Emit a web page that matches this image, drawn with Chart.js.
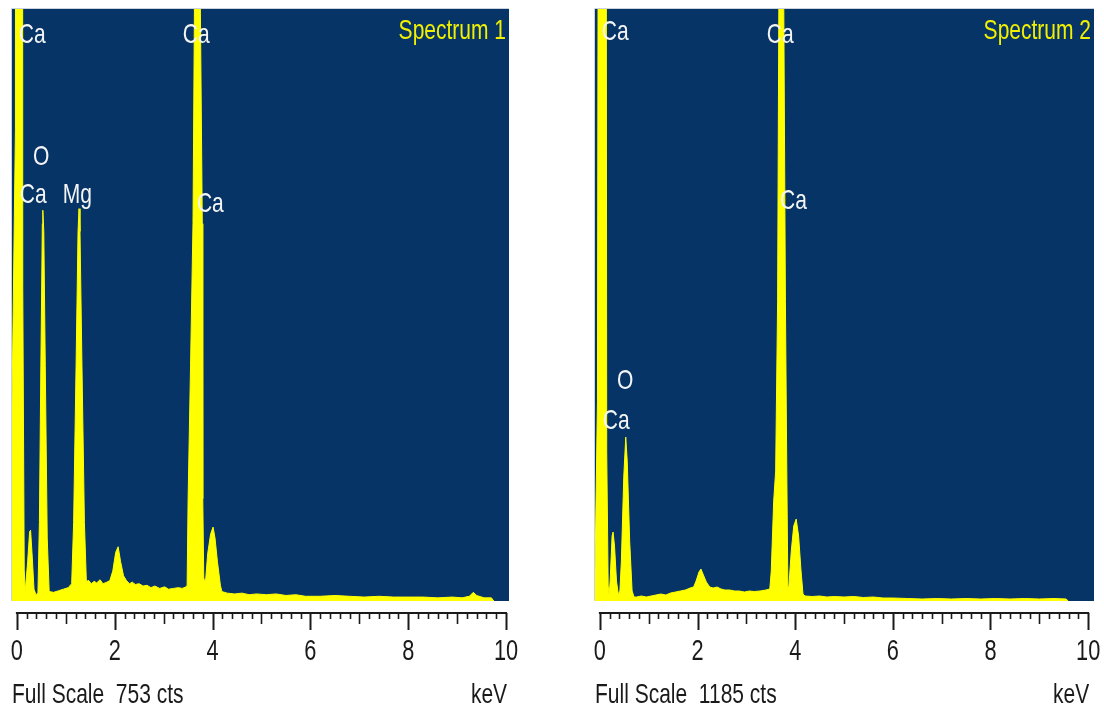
<!DOCTYPE html>
<html lang="en">
<head>
  <meta charset="UTF-8">
  <title>EDS Spectrum 1 and 2</title>
  <script src="https://cdn.jsdelivr.net/npm/chart.js"></script>
  <style>
    body { margin: 0; background: #fff; }
    .panel { position: absolute; top: 0; width: 552px; height: 713px; }
    #p1 { left: 0; }
    #p2 { left: 552px; }
  </style>
</head>
<body>
  <div class="panel" id="p1"><canvas id="spec1"></canvas></div>
  <div class="panel" id="p2"><canvas id="spec2"></canvas></div>

  <script>
    // energy axis (keV)
    const tickValues = [0, 2, 4, 6, 8, 10];
    const tickLabels = ['0', '2', '4', '6', '8', '10'];

    // Spectrum 1 (keV, counts)
    const spec1Kev = [-0.10, -0.03, 0.00, 0.10, 0.12, 0.15, 0.17, 0.22, 0.26, 0.28, 0.31, 0.35, 0.39,
      0.43, 0.46, 0.49, 0.52, 0.53, 0.55, 0.58, 0.62, 0.66, 0.75, 0.85, 0.95, 1.05, 1.12,
      1.16, 1.21, 1.25, 1.27, 1.29, 1.33, 1.38, 1.42, 1.47, 1.52, 1.58, 1.63, 1.70, 1.76, 1.84, 1.90,
      1.96, 2.02, 2.07, 2.12, 2.18, 2.24, 2.30, 2.36, 2.42, 2.50, 2.58, 2.66, 2.74, 2.82, 2.92, 3.02,
      3.10, 3.20, 3.30, 3.38, 3.46, 3.48, 3.50, 3.55, 3.60, 3.63, 3.68, 3.72, 3.75, 3.79, 3.80, 3.82,
      3.84, 3.86, 3.90, 3.96, 4.01, 4.05, 4.10, 4.16, 4.19, 4.30, 4.45, 4.60, 4.75, 4.90, 5.10, 5.30,
      5.50, 5.70, 5.90, 6.20, 6.50, 6.80, 7.10, 7.40, 7.70, 8.00, 8.30, 8.60, 8.90, 9.10, 9.25, 9.33,
      9.40, 9.55, 9.70, 9.75];
    const spec1Cts = [250, 600, 5000, 5000, 400, 40, 12, 50, 88, 90, 60, 15, 8,
      10, 100, 300, 480, 497, 470, 300, 80, 12, 11, 13, 15, 17, 22,
      100, 300, 470, 499, 470, 300, 100, 25, 26, 22, 25, 23, 27, 22, 24, 26,
      38, 62, 69, 50, 32, 26, 22, 24, 21, 22, 19, 20, 17, 19, 16, 18,
      15, 16, 17, 16, 18, 20, 130, 300, 480, 760, 3000, 3000, 760, 480, 130, 30,
      24, 28, 60, 85, 94, 80, 50, 20, 12, 10, 9, 10, 8, 9, 8, 9,
      7, 8, 6, 6, 7, 6, 5, 6, 5, 5, 5, 4, 5, 4, 6, 11,
      7, 4, 4, 0];
    const spec1FullScale = 753;

    // Spectrum 2
    const spec2Kev = [-0.10, -0.05, 0.02, 0.10, 0.14, 0.17, 0.19, 0.21, 0.25, 0.27, 0.30, 0.34, 0.38,
      0.41, 0.44, 0.49, 0.53, 0.56, 0.61, 0.66, 0.70, 0.75, 0.85, 0.95, 1.05, 1.15, 1.25, 1.35, 1.45,
      1.55, 1.65, 1.75, 1.85, 1.92, 1.97, 2.03, 2.07, 2.12, 2.18, 2.25, 2.32, 2.40, 2.48, 2.56, 2.66,
      2.76, 2.86, 2.96, 3.06, 3.16, 3.28, 3.40, 3.48, 3.51, 3.56, 3.60, 3.64, 3.67, 3.69, 3.73, 3.76,
      3.80, 3.83, 3.85, 3.87, 3.92, 3.97, 4.02, 4.07, 4.12, 4.16, 4.20, 4.35, 4.50, 4.65, 4.80, 5.00,
      5.20, 5.40, 5.60, 5.80, 6.00, 6.30, 6.60, 6.90, 7.20, 7.50, 7.80, 8.10, 8.40, 8.70, 9.00, 9.30,
      9.55, 9.59];
    const spec2Cts = [60, 400, 5000, 5000, 300, 30, 12, 40, 130, 138, 110, 40, 12,
      20, 80, 250, 328, 280, 120, 20, 8, 8, 10, 8, 10, 12, 14, 12, 16,
      18, 20, 22, 26, 28, 40, 58, 64, 52, 38, 28, 26, 28, 24, 22, 22,
      20, 20, 18, 20, 19, 20, 22, 24, 60, 200, 260, 600, 1300, 5000, 5000, 1300,
      600, 240, 28, 28, 100, 150, 164, 130, 60, 14, 10, 9, 10, 8, 9, 8,
      9, 7, 8, 6, 6, 5, 4, 5, 4, 5, 4, 5, 4, 5, 4, 5,
      4, 0];
    const spec2FullScale = 1185;

    // peak labels: text, keV (left edge), counts (baseline)
    const spec1Labels = [
      { text: 'Ca', kev: 0.04, cts: 710 },
      { text: 'Ca', kev: 3.39, cts: 710 },
      { text: 'O', kev: 0.33, cts: 555 },
      { text: 'Ca', kev: 0.06, cts: 506 },
      { text: 'Mg', kev: 0.94, cts: 506 },
      { text: 'Ca', kev: 3.68, cts: 495 }
    ];
    const spec2Labels = [
      { text: 'Ca', kev: 0.04, cts: 1123 },
      { text: 'Ca', kev: 3.42, cts: 1117 },
      { text: 'Ca', kev: 3.69, cts: 785 },
      { text: 'O', kev: 0.35, cts: 424 },
      { text: 'Ca', kev: 0.06, cts: 344 }
    ];

    const BLUE = '#063466';
    const YELLOW = '#ffff00';
    const FONT = '"Liberation Sans", Arial, sans-serif';

    function txt(ctx, s, x, y, align, size, color) {
      ctx.save();
      ctx.font = size + 'px ' + FONT;
      ctx.fillStyle = color;
      ctx.textAlign = align;
      ctx.textBaseline = 'alphabetic';
      ctx.translate(x, y);
      ctx.scale(0.75, 1);
      ctx.fillText(s, 0, 0);
      ctx.restore();
    }

    function makeSpectrum(id, kev, cts, fullScale, title, labels, xMax, pad) {
      const points = kev.map((k, i) => ({ x: k, y: cts[i] }));

      const deco = {
        id: 'deco',
        beforeDraw(chart) {
          const { ctx, chartArea: a } = chart;
          ctx.save();
          ctx.fillStyle = BLUE;
          ctx.fillRect(a.left, a.top, a.right - a.left, a.bottom - a.top);
          ctx.strokeStyle = '#c9d2de';
          ctx.lineWidth = 1;
          ctx.beginPath();
          ctx.moveTo(a.left - 0.5, a.bottom);
          ctx.lineTo(a.left - 0.5, a.top - 0.5);
          ctx.lineTo(a.right, a.top - 0.5);
          ctx.stroke();
          ctx.restore();
        },
        afterDraw(chart) {
          const { ctx, chartArea: a } = chart;
          const xs = chart.scales.x, ys = chart.scales.y;

          // peak labels
          labels.forEach(l => {
            txt(ctx, l.text, xs.getPixelForValue(l.kev), ys.getPixelForValue(l.cts), 'left', 28, '#f4f4f4');
          });
          txt(ctx, title, a.right - 3, a.top + 30, 'right', 28, '#f0f000');

          // energy axis with hanging ticks
          const axY = a.bottom + 12;
          ctx.save();
          ctx.strokeStyle = '#1a1a1a';
          ctx.lineWidth = 2;
          ctx.beginPath();
          ctx.moveTo(xs.getPixelForValue(0) - 1, axY);
          ctx.lineTo(xs.getPixelForValue(10) + 1, axY);
          ctx.stroke();
          for (let i = 0; i <= 50; i++) {
            const v = i * 0.2;
            const px = Math.round(xs.getPixelForValue(v)) + 0.5;
            const len = i % 10 === 0 ? 17 : (i % 5 === 0 ? 11 : 6);
            ctx.lineWidth = i % 10 === 0 ? 2 : 1.6;
            ctx.beginPath();
            ctx.moveTo(px, axY);
            ctx.lineTo(px, axY + len);
            ctx.stroke();
          }
          ctx.restore();

          tickValues.forEach((v, i) => {
            txt(ctx, tickLabels[i], xs.getPixelForValue(v), a.bottom + 59, 'center', 29, '#1a1a1a');
          });

          txt(ctx, 'Full Scale  ' + fullScale + ' cts', a.left, a.bottom + 102, 'left', 28, '#1a1a1a');
          txt(ctx, 'keV', xs.getPixelForValue(10) + 1, a.bottom + 102, 'right', 28, '#1a1a1a');
        }
      };

      return new Chart(document.getElementById(id), {
        type: 'line',
        data: {
          datasets: [{
            data: points,
            borderColor: YELLOW,
            borderWidth: 1,
            backgroundColor: YELLOW,
            fill: 'origin',
            pointRadius: 0,
            tension: 0
          }]
        },
        options: {
          responsive: true,
          maintainAspectRatio: false,
          animation: false,
          layout: { padding: pad },
          plugins: {
            legend: { display: false },
            tooltip: { enabled: false }
          },
          scales: {
            x: { type: 'linear', min: -0.1, max: xMax, display: false },
            y: { min: 0, max: fullScale, display: false }
          }
        },
        plugins: [deco]
      });
    }

    makeSpectrum('spec1', spec1Kev, spec1Cts, spec1FullScale, 'Spectrum 1', spec1Labels, 10.06,
      { left: 12, top: 9, right: 43, bottom: 112 });
    makeSpectrum('spec2', spec2Kev, spec2Cts, spec2FullScale, 'Spectrum 2', spec2Labels, 10.12,
      { left: 43, top: 9, right: 10, bottom: 112 });
  </script>
</body>
</html>
